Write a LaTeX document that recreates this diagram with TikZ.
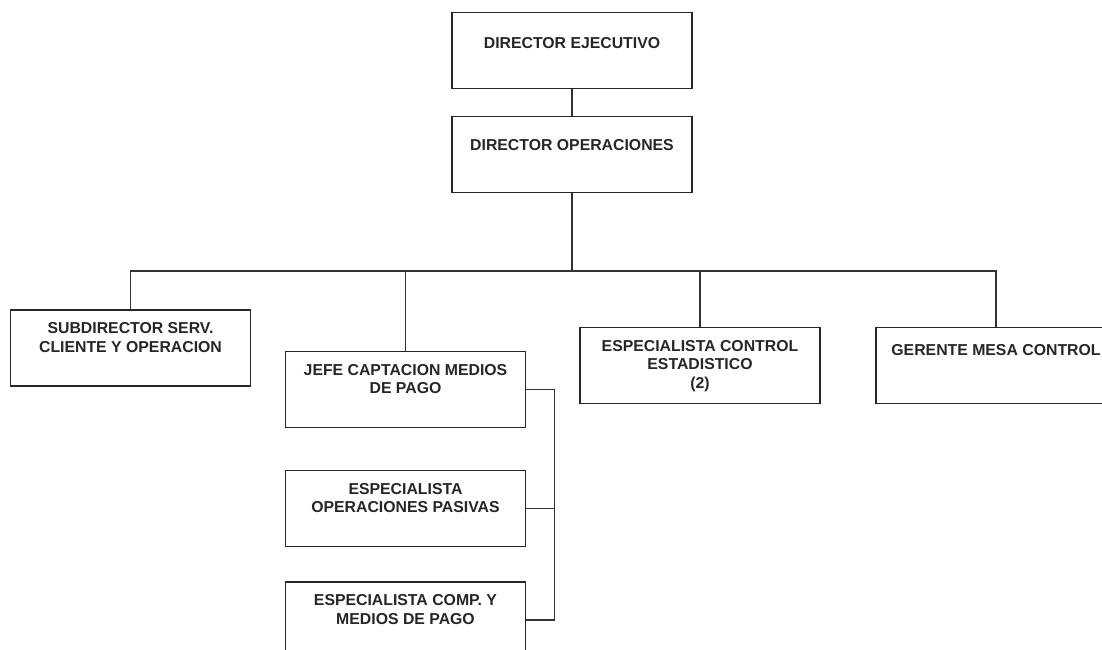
\documentclass[tikz,border=0pt]{standalone}
\usepackage{fontspec}
\setmainfont{Liberation Sans}
\usetikzlibrary{positioning}

\begin{document}
\begin{tikzpicture}
\tikzset{
block/.style={rectangle,draw=black!85,line width=0.6pt,minimum width=4.8cm,minimum height=1.52cm,inner sep=0pt},
boxtext/.style={anchor=north,align=center,inner sep=0pt,yshift=#1,
font=\fontsize{9}{10.6}\selectfont\bfseries,text=black!85},
boxtext/.default=-0.26cm,
myline/.style={draw=black!80,line width=0.6pt},
}
\useasboundingbox (0,0) rectangle (22.04,-13);

\node [block, label={[boxtext=-0.5cm]north:DIRECTOR EJECUTIVO}] (dirEje) at (11.44,-1.01) {};
\node [block, node distance=2.08cm, below of=dirEje, label={[boxtext=-0.46cm]north:DIRECTOR OPERACIONES}] (dirOpe) {};
\node [block, node distance=3.87cm, below of=dirOpe, xshift=-8.83cm, label={[boxtext]north:SUBDIRECTOR SERV.\\CLIENTE Y OPERACION}] (subDir) {};
\node [block, node distance=4.70cm, below of=dirOpe, xshift=-3.33cm, label={[boxtext]north:JEFE CAPTACION MEDIOS\\DE PAGO}] (jefeCap) {};
\node [block, node distance=4.22cm, below of=dirOpe, xshift=2.56cm, label={[boxtext]north:ESPECIALISTA CONTROL\\ESTADISTICO\\(2)}] (espCtrl) {};
\node [block, node distance=4.22cm, below of=dirOpe, xshift=8.48cm, label={[boxtext=-0.34cm]north:GERENTE MESA CONTROL}] (gerMesa) {};
\node [block, node distance=2.38cm, below of=jefeCap, label={[boxtext]north:ESPECIALISTA\\OPERACIONES PASIVAS}] (espPas) {};
\node [block, node distance=2.23cm, below of=espPas, label={[boxtext]north:ESPECIALISTA COMP. Y\\MEDIOS DE PAGO}] (espComp) {};

\draw[myline] (dirEje) -- (dirOpe);
\draw[myline] (dirOpe.south) -- ++(0,-1.56) coordinate (bus);
\draw[myline] (subDir.north) |- (bus) -| (gerMesa.north);
\draw[myline] (jefeCap.north) -- (jefeCap.north |- bus);
\draw[myline] (espCtrl.north) -- (espCtrl.north |- bus);
\draw[myline] (jefeCap.east) -- ++(0.56,0) coordinate (side) |- (espComp.east);
\draw[myline] (espPas.east) -- (espPas.east -| side);
\end{tikzpicture}
\end{document}
